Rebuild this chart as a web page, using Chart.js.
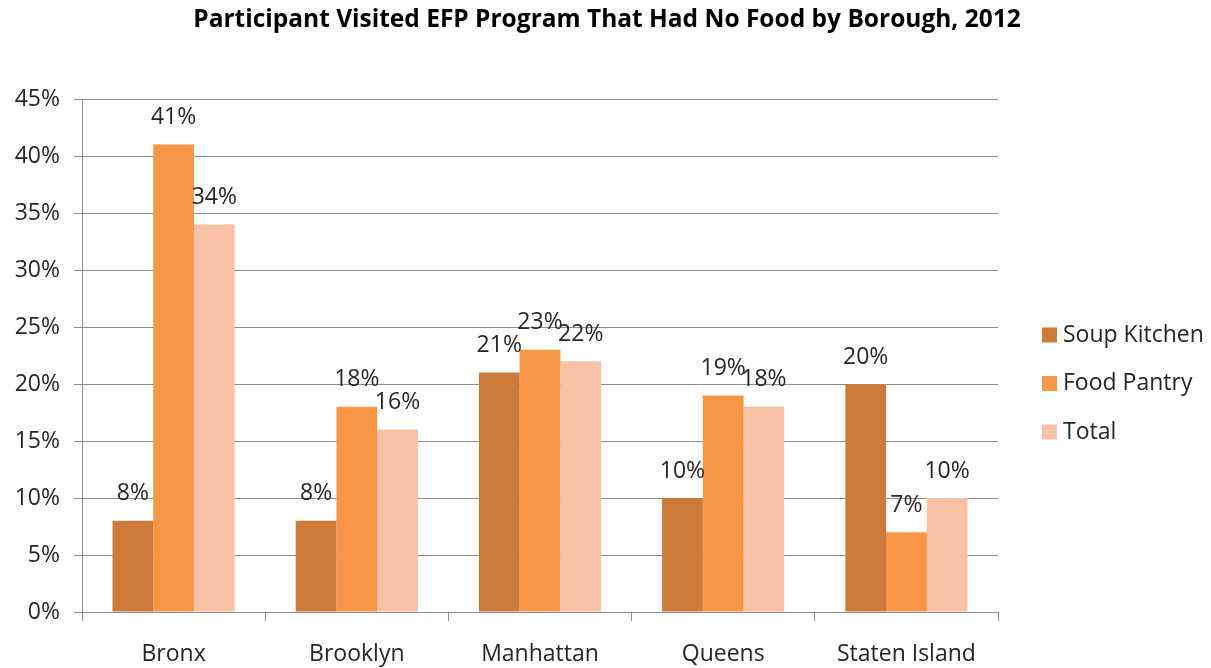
<!DOCTYPE html>
<html>
<head>
<meta charset="utf-8">
<script src="https://cdn.jsdelivr.net/npm/chart.js@4/dist/chart.umd.min.js"></script>
<style>
  html, body { margin: 0; padding: 0; background: #ffffff; }
  #wrap { width: 1211px; height: 668px; position: relative; }
</style>
</head>
<body>
<div id="wrap"><canvas id="c" width="1211" height="668"></canvas></div>
<script>
const titleText = 'Participant Visited EFP Program That Had No Food by Borough, 2012';
const categories = ['Bronx', 'Brooklyn', 'Manhattan', 'Queens', 'Staten Island'];
const seriesNames = ['Soup Kitchen', 'Food Pantry', 'Total'];
const soupKitchen = [8, 8, 21, 10, 20];
const foodPantry = [41, 18, 23, 19, 7];
const total = [34, 16, 22, 18, 10];
const yTicks = [0, 5, 10, 15, 20, 25, 30, 35, 40, 45];
const seriesColors = ['#CD7B3A', '#F79646', '#F9C1A5'];

const FONT = "'Open Sans', 'DejaVu Sans', sans-serif";
const FS = 23;
const TEXT = '#262626';
const GRID = '#8e8e8e';

const pageTitle = {
  id: 'pageTitle',
  afterDraw(chart) {
    const ctx = chart.ctx;
    ctx.save();
    ctx.font = 'bold 24.5px ' + FONT;
    ctx.fillStyle = '#000000';
    ctx.textAlign = 'center';
    ctx.textBaseline = 'middle';
    ctx.fillText(titleText, 607, 20);
    ctx.restore();
  }
};

const valueLabels = {
  id: 'valueLabels',
  afterDatasetsDraw(chart) {
    const ctx = chart.ctx;
    ctx.save();
    ctx.font = FS + 'px ' + FONT;
    ctx.fillStyle = TEXT;
    ctx.textAlign = 'center';
    ctx.textBaseline = 'middle';
    chart.data.datasets.forEach((ds, i) => {
      const meta = chart.getDatasetMeta(i);
      meta.data.forEach((bar, j) => {
        ctx.fillText(ds.data[j] + '%', bar.x, bar.y - 27);
      });
    });
    ctx.restore();
  }
};

const sideLegend = {
  id: 'sideLegend',
  afterDraw(chart) {
    const ctx = chart.ctx;
    ctx.save();
    ctx.font = FS + 'px ' + FONT;
    ctx.textAlign = 'left';
    ctx.textBaseline = 'middle';
    chart.data.datasets.forEach((ds, i) => {
      const cy = 335 + i * 48.5;
      ctx.fillStyle = ds.backgroundColor;
      ctx.fillRect(1042, cy - 7.5, 15, 15);
      ctx.fillStyle = TEXT;
      ctx.fillText(ds.label, 1063, cy);
    });
    ctx.restore();
  }
};

new Chart(document.getElementById('c'), {
  type: 'bar',
  data: {
    labels: categories,
    datasets: [
      { label: seriesNames[0], data: soupKitchen, backgroundColor: seriesColors[0] },
      { label: seriesNames[1], data: foodPantry, backgroundColor: seriesColors[1] },
      { label: seriesNames[2], data: total, backgroundColor: seriesColors[2] }
    ]
  },
  options: {
    responsive: false,
    animation: false,
    devicePixelRatio: 1,
    layout: { padding: { left: 0, right: 213, top: 99, bottom: 0 } },
    datasets: { bar: { categoryPercentage: 0.667, barPercentage: 1.0, borderWidth: 0 } },
    plugins: {
      legend: { display: false },
      tooltip: { enabled: false },
      title: { display: false }
    },
    scales: {
      x: {
        offset: true,
        grid: { display: true, drawOnChartArea: false, drawTicks: true, tickLength: 9, color: GRID, offset: true },
        border: { display: true, color: GRID, width: 1 },
        ticks: { color: TEXT, font: { family: FONT, size: FS }, padding: 20, maxRotation: 0 },
        afterFit(scale) { scale.height = 56; }
      },
      y: {
        min: 0,
        max: 45,
        afterBuildTicks(scale) { scale.ticks = yTicks.map(v => ({ value: v })); },
        grid: { color: GRID, drawTicks: true, tickLength: 8 },
        border: { display: true, color: GRID, width: 1 },
        ticks: { color: TEXT, font: { family: FONT, size: FS }, padding: 14, callback: v => v + '%' },
        afterFit(scale) { scale.width = 82; }
      }
    }
  },
  plugins: [valueLabels, sideLegend, pageTitle]
});
</script>
</body>
</html>
